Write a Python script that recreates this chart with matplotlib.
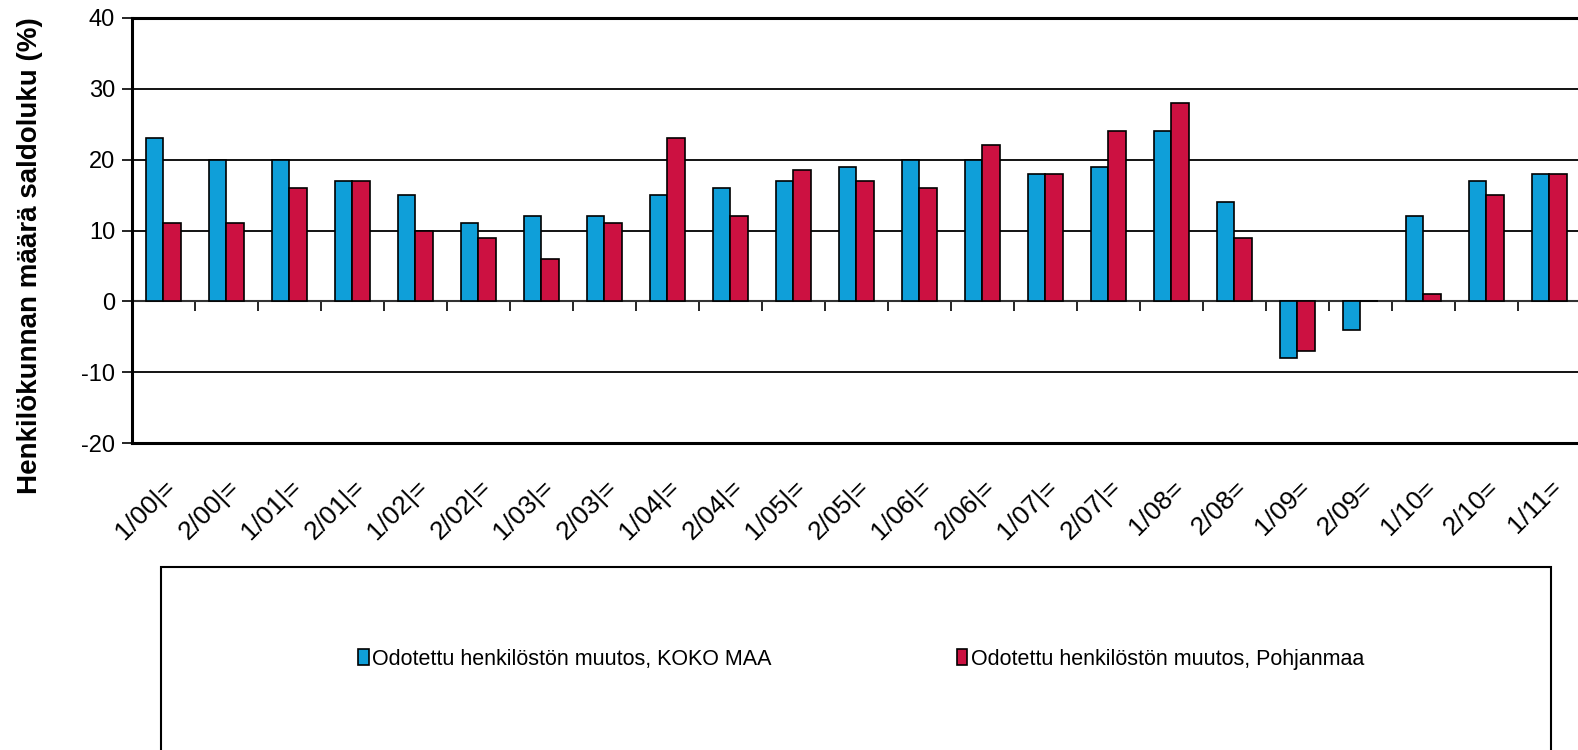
import numpy as np
import matplotlib.pyplot as plt
from matplotlib.patches import Rectangle

plt.rcParams['font.family'] = ['Liberation Sans', 'DejaVu Sans']
plt.rcParams['axes.unicode_minus'] = False

# Quarters (tick labels as printed in the original chart)
quarters = ["1/00|=", "2/00|=", "1/01|=", "2/01|=", "1/02|=", "2/02|=", "1/03|=",
            "2/03|=", "1/04|=", "2/04|=", "1/05|=", "2/05|=", "1/06|=", "2/06|=",
            "1/07|=", "2/07|=", "1/08=", "2/08=", "1/09=", "2/09=", "1/10=",
            "2/10=", "1/11="]

# Expected change in personnel (balance figure, %)
koko_maa = [23, 20, 20, 17, 15, 11, 12, 12, 15, 16, 17, 19, 20, 20, 18, 19, 24, 14,
            -8, -4, 12, 17, 18]
pohjanmaa = [11, 11, 16, 17, 10, 9, 6, 11, 23, 12, 18.6, 17, 16, 22, 18, 24, 28, 9,
             -7, 0, 1, 15, 18]

labels = ["Odotettu henkilöstön muutos, KOKO MAA",
          "Odotettu henkilöstön muutos, Pohjanmaa"]

blue = '#0f9fd9'
red = '#cc1141'

x = np.arange(len(quarters))
w = 0.28

fig = plt.figure(figsize=(15.78, 7.5), dpi=100)
ax = fig.add_axes([0.0835, 0.4089, 0.9184, 0.5675])

ax.bar(x - w / 2, koko_maa, width=w, color=blue, edgecolor='black', linewidth=1.2,
       label=labels[0], zorder=3)
ax.bar(x + w / 2, pohjanmaa, width=w, color=red, edgecolor='black', linewidth=1.2,
       label=labels[1], zorder=3)

ax.set_xlim(-0.5, len(quarters) - 0.5)
ax.set_ylim(-20, 40)
ax.set_yticks(np.arange(-20, 41, 10))
ax.tick_params(axis='y', labelsize=17, length=7, width=1.2, pad=5, direction='out')
for yv in [-10, 10, 20, 30]:
    ax.axhline(yv, color='black', linewidth=1.3, zorder=1)

# frame: left, top, bottom; right edge runs off the picture
for side in ['left', 'top', 'bottom']:
    ax.spines[side].set_linewidth(2.2)
ax.spines['right'].set_visible(False)

# category labels at the bottom of the plot area
ax.set_xticks(x)
ax.set_xticklabels(quarters, rotation=45, ha='right', rotation_mode='anchor', fontsize=19)
ax.tick_params(axis='x', length=0, pad=23)

# zero axis with tick marks between categories
zero_ax = ax.secondary_xaxis(1 / 3)
zero_ax.set_xticks(np.arange(0.5, len(quarters) - 0.5, 1.0))
zero_ax.tick_params(axis='x', length=7, width=1.2, direction='out', labelbottom=False)
zero_ax.spines['bottom'].set_linewidth(1.5)
zero_ax.spines['bottom'].set_color('#333333')

ax.set_ylabel("Henkilökunnan määrä saldoluku (%)", fontsize=20, fontweight='bold')
ax.yaxis.set_label_coords(-0.061, 0.44)

# legend box
fig.patches.append(Rectangle((161 / 1578, -0.1), (1551 - 161) / 1578, 0.1 + 1 - 567 / 750,
                             transform=fig.transFigure, fill=False, edgecolor='black',
                             linewidth=1.5))
fig.legend(loc='center', bbox_to_anchor=(861 / 1578, 1 - 659 / 750), ncol=2, frameon=False,
           fontsize=15.5, handlelength=0.5, handleheight=0.8, handletextpad=0.15,
           columnspacing=8.6)

fig.savefig('out.png', dpi=100)
